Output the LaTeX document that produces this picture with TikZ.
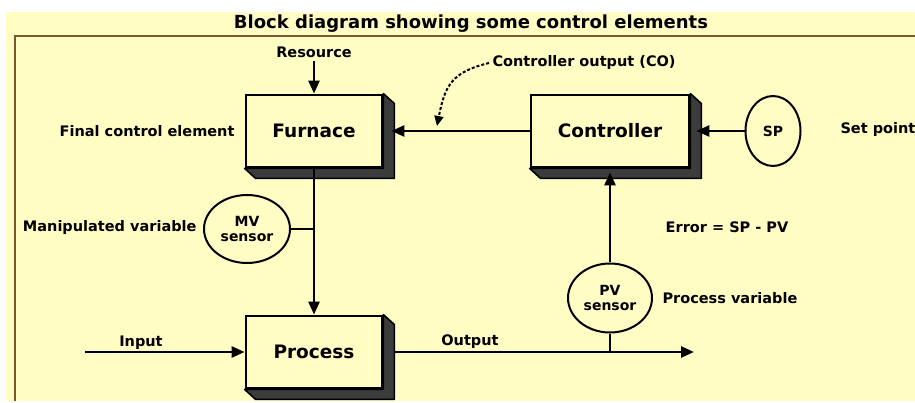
\documentclass[tikz,border=0pt]{standalone}
\usepackage{fontspec}
\setmainfont{DejaVu Sans}
\usepackage{tikz}
\usetikzlibrary{positioning,shapes.geometric,arrows.meta,calc}
\definecolor{paper}{RGB}{255,252,196}
\definecolor{frame}{RGB}{122,88,44}
\definecolor{side}{RGB}{60,60,60}

\tikzset{
  block/.style={draw, line width=2.8pt, fill=paper, minimum height=72pt,
    font=\fontsize{18.5}{22}\selectfont\bfseries},
  sensor/.style={draw, ellipse, line width=2pt, fill=paper, inner sep=0pt,
    align=center, font=\fontsize{14}{15}\selectfont\bfseries},
  lbl/.style={font=\fontsize{14.5}{17}\selectfont\bfseries},
  wire/.style={line width=2.6pt},
  flow/.style={wire, -{Triangle[length=13pt,width=11pt]}},
}

\begin{document}
\begin{tikzpicture}[x=1pt, y=-1pt]
  \useasboundingbox (0,0) rectangle (915,403);
  \fill[white] (0,0) rectangle (915,403);
  \fill[paper] (6,12) rectangle (915,401);
  \draw[frame, line width=2.4pt] (15,401) -- (15,36) -- (915,36);

  \node (title) at (471,24) {\fontsize{18}{21}\selectfont\bfseries Block diagram showing some control elements};

  % blocks
  \node[block, minimum width=136pt] (furnace) at (314,131) {Furnace};
  \node[block, minimum width=158pt] (controller) at (610,131) {Controller};
  \node[block, minimum width=136pt] (process) at (314,352) {Process};
  \foreach \b in {furnace,controller,process}
    \filldraw[side, draw=black, line width=1.6pt, line join=round]
      (\b.north east) -- ++(11,10) -- ($(\b.south east)+(11,10)$)
      -- ($(\b.south west)+(11,10)$) -- (\b.south west) -- (\b.south east) -- cycle;

  % sensors
  \node[sensor, minimum width=55pt, minimum height=70pt] (sp) at (773,131) {SP};
  \node[sensor, minimum width=86pt, minimum height=68pt] (mv) at (247,229) {MV\\sensor};
  \node[sensor, minimum width=84pt, minimum height=69pt] (pv) at (610,298) {PV\\sensor};

  % labels
  \node[lbl] (resource) at (314,52) {Resource};
  \node[lbl, anchor=east] (fce) at (238,131) {Final control element};
  \node[lbl, anchor=west] (co) at (489,63) {Controller output (CO)};
  \node[lbl, anchor=west] (setpoint) at (837,130) {Set point};
  \node[lbl, anchor=east] (manip) at (200,228) {Manipulated variable};
  \node[lbl] (error) at (727,227) {Error = SP - PV};
  \node[lbl, anchor=west] (procvar) at (659,298) {Process variable};
  \node[lbl] (input) at (141,343) {Input};
  \node[lbl] (output) at (470,342) {Output};

  \coordinate (instart) at (85,352);
  \coordinate (outend) at (694,352);
  \coordinate (pvjoin) at (pv.south |- outend);
  \coordinate (cotip) at (437,126);

  % connectors
  \draw[flow] (resource.south) -- (furnace.north);
  \draw[flow] (controller.west) -- ([xshift=8pt]furnace.east);
  \draw[flow] (sp.west) -- ([xshift=6pt]controller.east);
  \draw[flow] (furnace.south) -- (process.north);
  \draw[wire] (mv.east) -- (mv.east -| furnace.south);
  \draw[flow] (instart) -- (process.west);
  \draw[flow] ([xshift=11pt]process.east) -- (outend);
  \draw[wire] (pv.south) -- (pvjoin);
  \draw[flow] (pv.north) -- ([yshift=-4pt]controller.south);
  \draw[densely dashed, line width=2pt, -{Triangle[length=10pt,width=9pt]}]
    (co.west) .. controls (452,72) and (445,85) .. (cotip);
\end{tikzpicture}
\end{document}
